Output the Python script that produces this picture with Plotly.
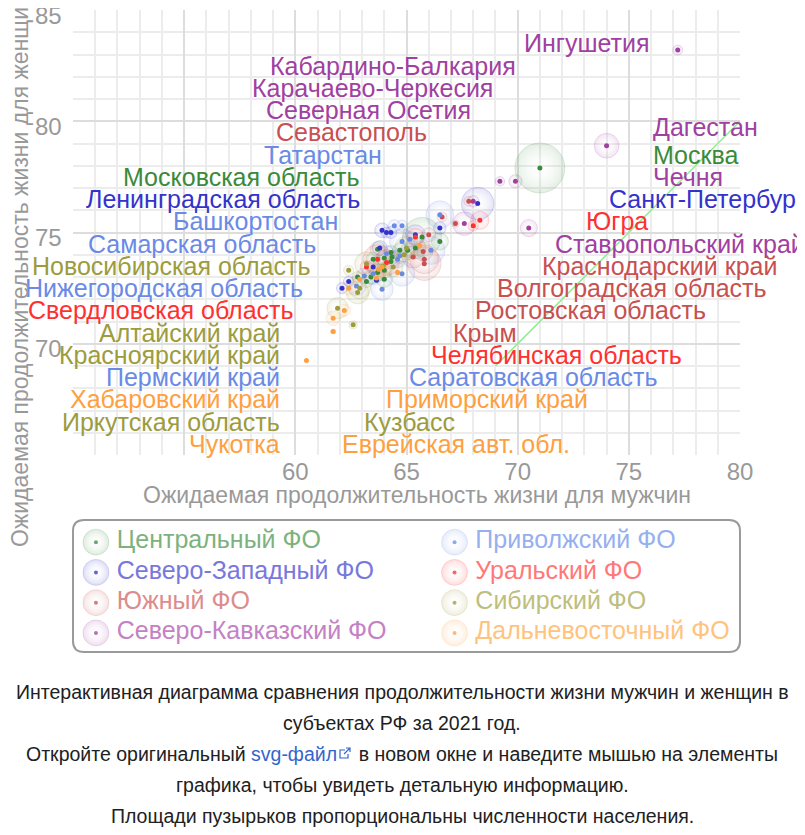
import plotly.graph_objects as go

# ---------------------------------------------------------------- data
districts = ['Центральный ФО', 'Северо-Западный ФО', 'Южный ФО', 'Северо-Кавказский ФО',
             'Приволжский ФО', 'Уральский ФО', 'Сибирский ФО', 'Дальневосточный ФО']

# life expectancy of men (x), of women (y), population in millions
central_x = [71.0, 65.7, 66.5, 65.4, 65.05, 64.3, 63.7, 64.0, 64.35, 63.5, 64.3, 64.0, 63.7, 64.0, 63.4, 63.2, 62.8, 64.7]
central_y = [77.9, 74.8, 74.6, 74.3, 74.2, 74.1, 74.25, 73.85, 73.9, 73.8, 73.7, 73.3, 73.2, 72.9, 73.0, 72.8, 73.0, 74.2]
central_pop = [12.6, 7.7, 1.5, 2.3, 1.1, 1.0, 1.14, 1.25, 0.93, 1.0, 1.1, 1.25, 1.5, 1.35, 1.0, 0.73, 0.63, 1.1]

northwest_x = [68.2, 63.9, 64.1, 64.3, 65.4, 66.5, 63.8, 63.5, 62.4, 62.1, 63.65]
northwest_y = [76.3, 75.1, 75.0, 75.0, 74.9, 75.2, 74.3, 73.45, 72.8, 72.5, 72.85]
northwest_pop = [5.4, 1.1, 0.6, 0.73, 2.0, 0.8, 1.15, 1.0, 0.58, 0.62, 0.04]

south_x = [67.8, 66.6, 67.2, 66.0, 65.75, 65.8, 65.8, 65.3]
south_y = [76.4, 75.7, 75.4, 74.9, 74.15, 73.8, 73.6, 73.9]
south_pop = [0.5, 0.5, 0.27, 1.0, 1.9, 4.2, 5.7, 2.5]

caucasus_x = [74.0, 77.2, 69.2, 69.9, 68.0, 70.5, 67.6]
caucasus_y = [78.9, 83.2, 77.3, 77.3, 76.4, 75.2, 75.4]
caucasus_pop = [3.1, 0.5, 0.47, 0.9, 0.69, 1.5, 2.8]

volga_x = [66.5, 64.45, 64.8, 64.8, 65.15, 66.1, 64.1, 64.6, 64.7, 64.8, 63.9, 63.1, 62.75, 63.5]
volga_y = [75.8, 75.3, 75.3, 74.6, 74.7, 74.2, 74.05, 73.8, 73.95, 73.15, 72.45, 73.05, 72.6, 73.15]
volga_pop = [3.9, 0.78, 0.68, 3.2, 1.2, 4.0, 1.3, 1.5, 1.2, 3.2, 2.5, 1.25, 1.95, 2.4]

ural_x = [68.0, 68.3, 65.4, 63.7, 64.1, 63.2]
ural_y = [75.3, 75.55, 74.8, 73.8, 73.65, 73.45]
ural_pop = [0.55, 1.7, 1.5, 4.3, 3.4, 0.83]

siberia_x = [62.4, 62.8, 64.4, 61.9, 62.6, 65.0, 64.9, 63.2, 62.9, 63.95]
siberia_y = [73.3, 72.3, 73.45, 71.6, 70.85, 74.3, 74.0, 73.6, 72.5, 73.5]
siberia_pop = [0.53, 2.6, 1.9, 2.3, 0.33, 2.8, 1.07, 2.85, 2.37, 0.22]

fareast_x = [65.6, 63.9, 63.75, 62.9, 62.4, 62.2, 61.7, 61.7, 60.5, 63.65, 64.6]
fareast_y = [74.4, 73.45, 73.35, 72.9, 72.5, 71.5, 71.15, 70.55, 69.25, 72.95, 73.2]
fareast_pop = [0.48, 1.87, 1.3, 0.99, 0.98, 0.78, 1.05, 0.15, 0.05, 0.31, 0.14]

# labels: text, anchor point, district index
left_labels = ['Ингушетия', 'Кабардино-Балкария', 'Карачаево-Черкесия', 'Северная Осетия',
               'Севастополь', 'Татарстан', 'Московская область', 'Ленинградская область',
               'Башкортостан', 'Самарская область', 'Новосибирская область',
               'Нижегородская область', 'Свердловская область', 'Алтайский край',
               'Красноярский край', 'Пермский край', 'Хабаровский край', 'Иркутская область',
               'Чукотка']
left_x = [76, 70, 69, 68, 66, 64, 63, 63, 62, 61, 60.75, 60.45, 60.05, 59.4, 59.4, 59.4, 59.4, 59.4, 59.4]
left_y = [83.5, 82.5, 81.5, 80.5, 79.5, 78.5, 77.5, 76.5, 75.5, 74.5, 73.5, 72.5, 71.5,
          70.5, 69.5, 68.5, 67.5, 66.5, 65.5]
left_fo = [3, 3, 3, 3, 2, 4, 0, 1, 4, 4, 6, 4, 5, 6, 6, 4, 7, 6, 7]

right_labels = ['Дагестан', 'Москва', 'Чечня', 'Санкт-Петербург', 'Югра', 'Ставропольский край',
                'Краснодарский край', 'Волгоградская область', 'Ростовская область', 'Крым',
                'Челябинская область', 'Саратовская область', 'Приморский край', 'Кузбасс',
                'Еврейская авт. обл.']
right_x = [76, 76, 76, 74, 73, 71.6, 71, 69, 68, 67, 66, 65, 64, 63, 62]
right_y = [79.75, 78.5, 77.5, 76.5, 75.5, 74.5, 73.5, 72.5, 71.5, 70.5, 69.5, 68.5, 67.5, 66.5, 65.5]
right_fo = [3, 0, 3, 1, 5, 3, 2, 2, 2, 2, 5, 4, 7, 6, 7]

x_ticks = [50, 55, 60, 65, 70, 75, 80]
x_ticktext = ['', '', '60', '65', '70', '75', '80']
y_ticks = [65, 70, 75, 80, 85]
y_ticktext = ['', '70', '75', '80', '85']

diag = [69, 80]

caption = ['Интерактивная диаграмма сравнения продолжительности жизни мужчин и женщин в',
           'субъектах РФ за 2021 год.',
           'Откройте оригинальный <span style="color:#3366cc">svg-файл</span>    в новом окне и наведите мышью на элементы',
           'графика, чтобы увидеть детальную информацию.',
           'Площади пузырьков пропорциональны численности населения.']

# ---------------------------------------------------------------- style
RGB = ['58,138,58', '51,51,204', '200,80,80', '160,64,160',
       '106,138,230', '255,48,48', '156,156,60', '255,160,64']
LEGEND_RGB = ['125,178,125', '120,120,220', '220,140,140', '195,130,195',
              '150,175,240', '255,120,120', '190,190,125', '255,195,125']
FONT = 'Liberation Sans, Arial, sans-serif'
GREY = '#999999'
LINK = '#3366cc'

# the page has an 8px body margin; positions below are taken on screen
OFF = 8
W, H = 805, 835
L, R, T = 73 - OFF, 740 - OFF, 10 - OFF


def px_x(px):
    return (px - OFF - L) / (R - L)


def px_y(py):
    return (H - (py - OFF)) / (H - T)


series = [(central_x, central_y, central_pop), (northwest_x, northwest_y, northwest_pop),
          (south_x, south_y, south_pop), (caucasus_x, caucasus_y, caucasus_pop),
          (volga_x, volga_y, volga_pop), (ural_x, ural_y, ural_pop),
          (siberia_x, siberia_y, siberia_pop), (fareast_x, fareast_y, fareast_pop)]

fig = go.Figure()

fig.add_trace(go.Scatter(x=diag, y=diag, mode='lines', line=dict(color='#90ee90', width=1.5),
                         showlegend=False, hoverinfo='skip'))

sizeref = 2 * max(central_pop) / 50 ** 2
for i, (xs, ys, pops) in enumerate(series):
    fig.add_trace(go.Scatter(
        x=xs, y=ys, mode='markers', name=districts[i], showlegend=False,
        marker=dict(size=pops, sizemode='area', sizeref=sizeref,
                    color='rgba(%s,0.20)' % RGB[i],
                    gradient=dict(type='radial', color='rgba(255,255,255,0.02)'),
                    line=dict(color='rgba(%s,0.22)' % RGB[i], width=1)),
        hoverinfo='skip'))

for i, (xs, ys, pops) in enumerate(series):
    fig.add_trace(go.Scatter(
        x=xs, y=ys, mode='markers', name=districts[i], showlegend=False,
        marker=dict(size=5, color='rgb(%s)' % RGB[i]),
        hovertemplate='%{x}, %{y}<extra>' + districts[i] + '</extra>'))

# legend drawn on its own hidden axes: two columns, four rows
for i, name in enumerate(districts):
    col, row = i // 4, i % 4
    fig.add_trace(go.Scatter(
        x=[col + 0.064], y=[row + 0.5], xaxis='x2', yaxis='y2', mode='markers',
        showlegend=False, hoverinfo='skip',
        marker=dict(size=26, color='rgba(%s,0.18)' % RGB[i],
                    gradient=dict(type='radial', color='rgba(255,255,255,0.02)'),
                    line=dict(color='rgba(%s,0.15)' % RGB[i], width=1))))
    fig.add_trace(go.Scatter(
        x=[col + 0.064], y=[row + 0.5], xaxis='x2', yaxis='y2', mode='markers',
        showlegend=False, hoverinfo='skip',
        marker=dict(size=4, color='rgba(%s,0.75)' % RGB[i])))
    fig.add_trace(go.Scatter(
        x=[col + 0.122], y=[row + 0.5], xaxis='x2', yaxis='y2', mode='text',
        text=[name], textposition='middle right', showlegend=False, hoverinfo='skip',
        textfont=dict(family=FONT, size=25, color='rgb(%s)' % LEGEND_RGB[i])))

annotations = []
for txt, x, y, fo in zip(left_labels, left_x, left_y, left_fo):
    annotations.append(dict(text=txt, x=x, y=y, xref='x', yref='y', xanchor='right',
                            yanchor='middle', showarrow=False,
                            font=dict(family=FONT, size=25, color='rgb(%s)' % RGB[fo])))
for txt, x, y, fo in zip(right_labels, right_x, right_y, right_fo):
    annotations.append(dict(text=txt, x=x, y=y, xref='x', yref='y', xanchor='left',
                            yanchor='middle', showarrow=False,
                            font=dict(family=FONT, size=25, color='rgb(%s)' % RGB[fo])))

# y tick labels sit a little below their grid lines
for v, t in zip(y_ticks, y_ticktext):
    annotations.append(dict(text=t, x=px_x(64), y=v, xref='paper', yref='y', yshift=-5,
                            xanchor='right', yanchor='middle', showarrow=False,
                            font=dict(family=FONT, size=24, color=GREY)))

annotations.append(dict(text='Ожидаемая продолжительность жизни для мужчин',
                        x=px_x(417), y=px_y(495), xref='paper', yref='paper',
                        xanchor='center', yanchor='middle',
                        showarrow=False, font=dict(family=FONT, size=23, color=GREY)))
annotations.append(dict(text='Ожидаемая продолжительность жизни для женщин',
                        x=px_x(20), y=px_y(271), xref='paper', yref='paper', textangle=-90,
                        xanchor='center', yanchor='middle',
                        showarrow=False, font=dict(family=FONT, size=23, color=GREY)))

for k, line in enumerate(caption):
    annotations.append(dict(text=line, x=px_x(402), y=px_y(692 + 31 * k),
                            xref='paper', yref='paper', showarrow=False,
                            xanchor='center', yanchor='middle',
                            font=dict(family=FONT, size=19.5, color='#202122')))


def to_path(cmds):
    path = ''
    for c in cmds:
        coords = c[1:]
        parts = []
        for j in range(0, len(coords), 2):
            parts.append('%.5f,%.5f' % (px_x(coords[j]), px_y(coords[j + 1])))
        path += c[0] + ' ' + ' '.join(parts) + ' '
    return path


def rounded_box(x0, y0, x1, y1, r):
    return to_path([('M', x0 + r, y0), ('L', x1 - r, y0), ('Q', x1, y0, x1, y0 + r),
                    ('L', x1, y1 - r), ('Q', x1, y1, x1 - r, y1), ('L', x0 + r, y1),
                    ('Q', x0, y1, x0, y1 - r), ('L', x0, y0 + r), ('Q', x0, y0, x0 + r, y0)]) + 'Z'


# small "external link" icon after the svg-файл link
ix, iy = 340, 758
icon_box = to_path([('M', ix + 5, iy - 8), ('L', ix, iy - 8), ('L', ix, iy),
                    ('L', ix + 8, iy), ('L', ix + 8, iy - 4)])
icon_arrow = to_path([('M', ix + 4, iy - 4), ('L', ix + 10, iy - 10),
                      ('M', ix + 6, iy - 10), ('L', ix + 10, iy - 10), ('L', ix + 10, iy - 6)])

fig.update_layout(
    width=W, height=H,
    margin=dict(l=L, r=W - R, t=T, b=0, autoexpand=False),
    paper_bgcolor='white', plot_bgcolor='white',
    showlegend=False,
    xaxis=dict(domain=[0, 1], range=[50, 80], tickmode='array',
               tickvals=x_ticks, ticktext=x_ticktext,
               showgrid=True, gridcolor='#dddddd', gridwidth=2, zeroline=False,
               showline=False, ticks='', fixedrange=True,
               tickfont=dict(family=FONT, size=24, color=GREY),
               minor=dict(dtick=1, showgrid=True, gridcolor='#ececec', gridwidth=1.5)),
    yaxis=dict(domain=[px_y(455), 1], range=[65, 85], tickmode='array',
               tickvals=y_ticks, showticklabels=False,
               showgrid=True, gridcolor='#dddddd', gridwidth=2, zeroline=False,
               showline=False, ticks='', fixedrange=True,
               minor=dict(dtick=1, showgrid=True, gridcolor='#ececec', gridwidth=1.5)),
    xaxis2=dict(domain=[0, 1], range=[0, 1.86], anchor='y2', visible=False, fixedrange=True),
    yaxis2=dict(domain=[px_y(648), px_y(527)], range=[4, 0], anchor='x2', visible=False,
                fixedrange=True),
    shapes=[dict(type='path', xref='paper', yref='paper',
                 path=rounded_box(73, 520, 740, 652, 11),
                 line=dict(color='#9a9a9a', width=2), fillcolor='rgba(0,0,0,0)'),
            dict(type='path', xref='paper', yref='paper', path=icon_box,
                 line=dict(color=LINK, width=1.2)),
            dict(type='path', xref='paper', yref='paper', path=icon_arrow,
                 line=dict(color=LINK, width=1.2))],
    annotations=annotations,
)

fig.write_html('out.html')
